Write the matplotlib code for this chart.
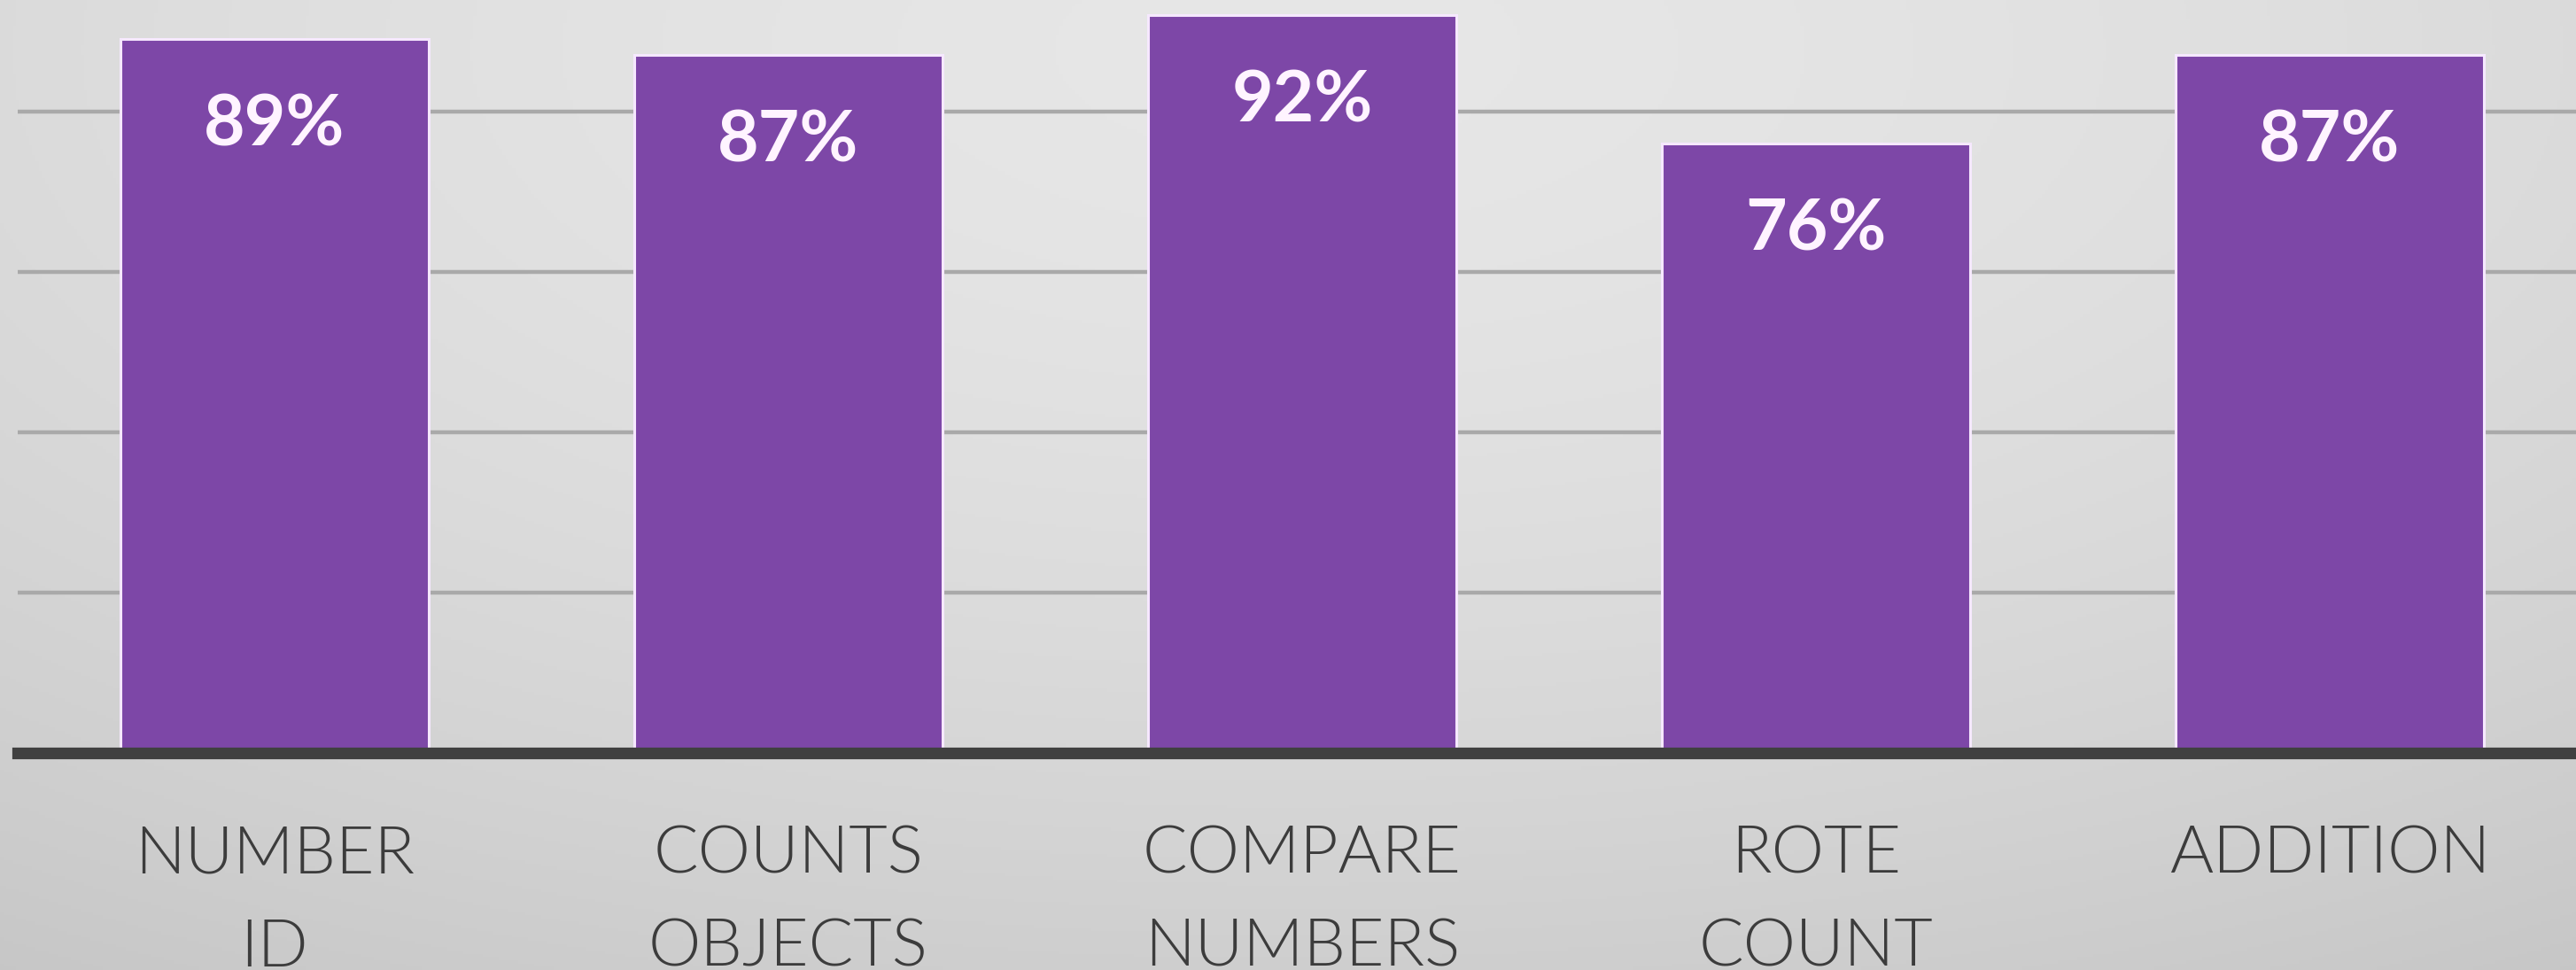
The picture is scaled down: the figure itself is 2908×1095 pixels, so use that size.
import matplotlib.pyplot as plt
import numpy as np

categories = ["NUMBER\nID", "COUNTS\nOBJECTS", "COMPARE\nNUMBERS", "ROTE\nCOUNT", "ADDITION"]
scores = [89, 87, 92, 76, 87]
value_labels = ["89%", "87%", "92%", "76%", "87%"]
grid_values = [20, 40, 60, 80]

W, H = 2908, 1095
fig = plt.figure(figsize=(W / 100, H / 100), dpi=100)

# soft radial backdrop, lighter toward the upper middle
bg = fig.add_axes([0, 0, 1, 1], zorder=-10)
yy, xx = np.mgrid[0:1:300j, 0:1:800j]
r = np.sqrt(((xx - 0.5) / 0.9) ** 2 + ((yy - 0.05) / 1.1) ** 2)
shade = np.clip(0.905 - 0.12 * r ** 1.6, 0, 1)
bg.imshow(np.dstack([shade] * 3), aspect="auto", extent=[0, 1, 0, 1], origin="upper")
bg.axis("off")

ax = fig.add_axes([20 / W, 1 - 850 / H, 2900 / W, 850 / H])
ax.set_facecolor("none")
x = np.arange(len(categories))

for g in grid_values:
    ax.axhline(g, color="#a9a9a9", lw=3.2, zorder=1)

bars = ax.bar(x, scores, width=0.6, color="#7d47a7", edgecolor="#f6e8ff",
              linewidth=2.2, zorder=2)

for xi, v, lab in zip(x, scores, value_labels):
    ax.annotate(lab, (xi, v), xytext=(0, -70), textcoords="offset points",
                ha="center", va="center", color="#fff4ff", fontsize=58,
                fontweight="bold", family=["Lato", "DejaVu Sans"], zorder=3)

ax.axhline(0, color="#404040", lw=9.5, zorder=4, clip_on=False)

ax.set_xlim(-0.5, len(categories) - 0.5)
ax.set_ylim(0, 93.9)
ax.set_yticks([])
ax.set_xticks(x)
ax.set_xticklabels(categories, fontsize=54, color="#3c3c3c",
                   family=["Lato", "DejaVu Sans"], fontweight=300,
                   linespacing=1.7, va="top")
ax.tick_params(axis="x", length=0, pad=58)
for s in ax.spines.values():
    s.set_visible(False)

fig.savefig("out.png", dpi=100)
